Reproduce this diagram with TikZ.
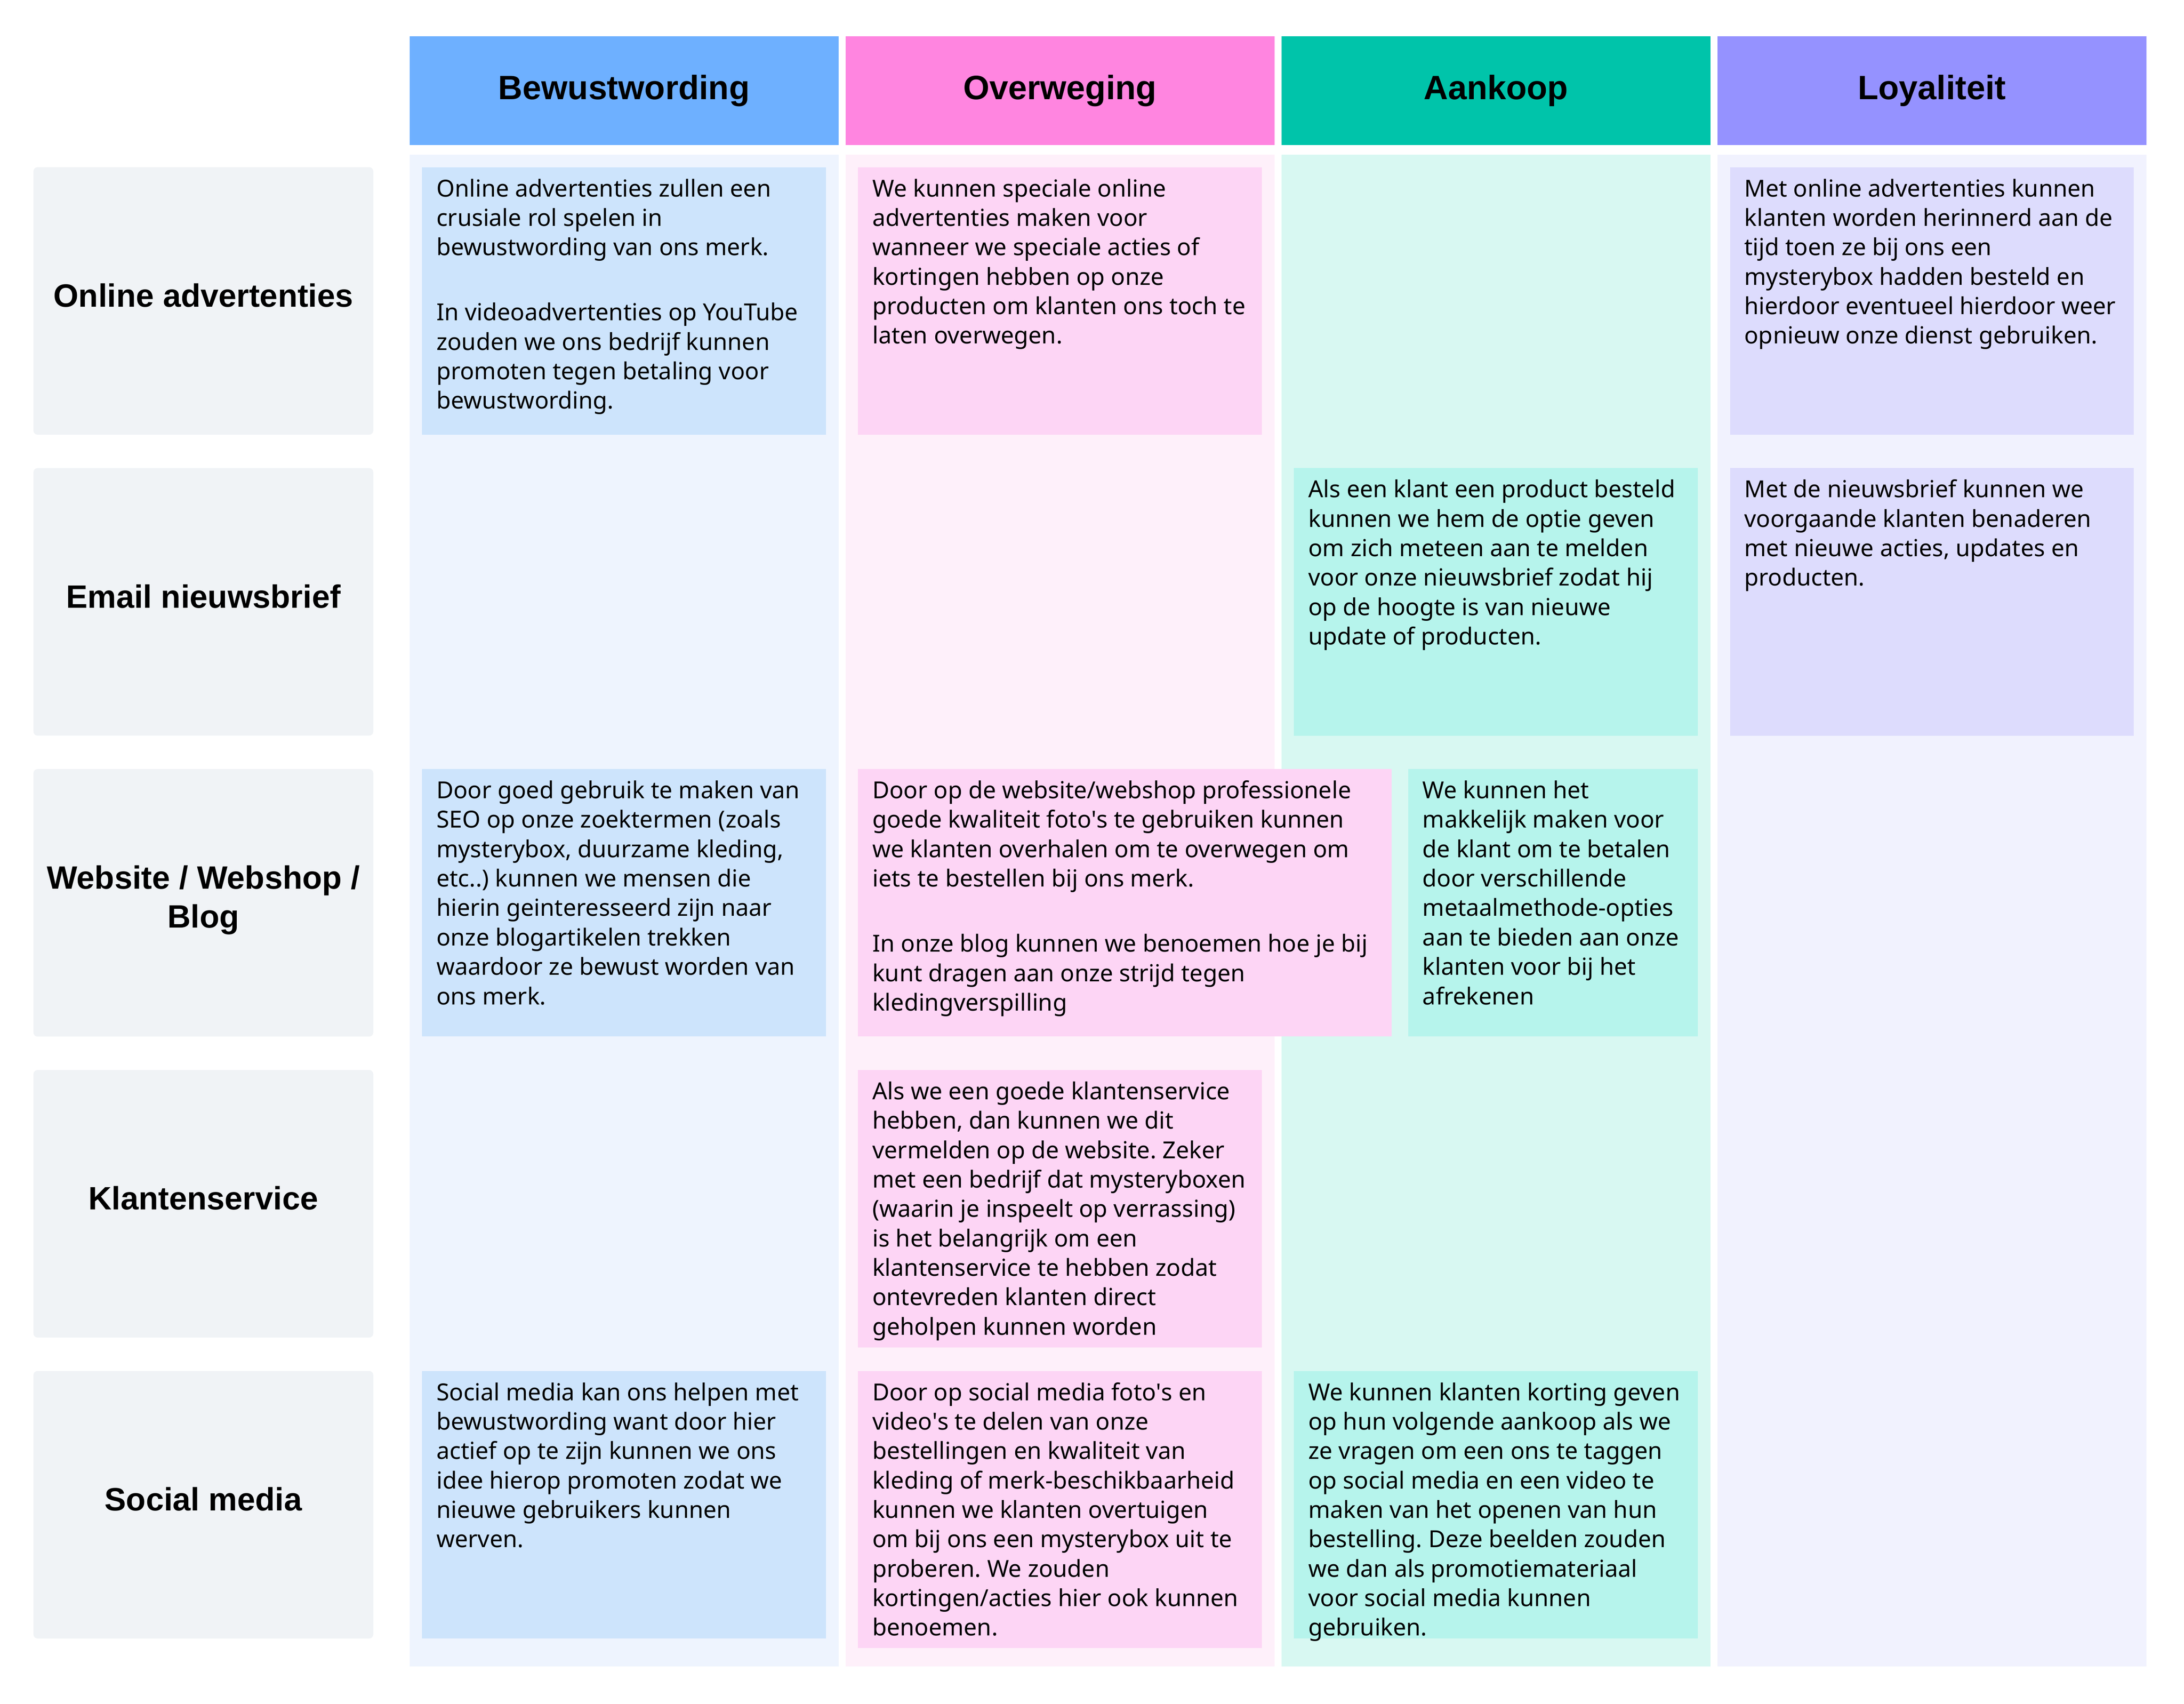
\documentclass[tikz,border=0pt]{standalone}
\usepackage{fontspec}
\setmainfont{Noto Sans}
\newfontfamily\kopfont{Liberation Sans}
\usepackage{tikz}
\frenchspacing

\definecolor{bewustkop}{HTML}{6EB0FF}
\definecolor{overwegkop}{HTML}{FF85E0}
\definecolor{aankoopkop}{HTML}{00C4AA}
\definecolor{loyalkop}{HTML}{9592FF}
\definecolor{bewustbg}{HTML}{EEF4FE}
\definecolor{overwegbg}{HTML}{FEF0FA}
\definecolor{aankoopbg}{HTML}{D8F8F2}
\definecolor{loyalbg}{HTML}{F1F2FE}
\definecolor{bewustkaart}{HTML}{CDE4FC}
\definecolor{overwegkaart}{HTML}{FDD5F5}
\definecolor{aankoopkaart}{HTML}{B6F4EC}
\definecolor{loyalkaart}{HTML}{DDDCFD}
\definecolor{rijbg}{HTML}{F0F3F6}

\begin{document}
\begin{tikzpicture}[x=0.02cm, y=-0.02cm]
			\tikzstyle{kopstyle} = [font=\kopfont\bfseries\fontsize{13.8}{16}\selectfont]
			\tikzstyle{rijstyle} = [font=\kopfont\bfseries\fontsize{13.2}{15.9}\selectfont, align=center]
			\tikzstyle{kaartstyle} = [font=\fontsize{9.58}{12.02}\selectfont, anchor=north west, inner sep=0pt, align=left]
			
			\useasboundingbox (0,0) rectangle (1568,1223);
			\fill[white] (0,0) rectangle (1568,1223);
			
			% kolommen
			\fill[bewustbg] (294,111) rectangle (602,1196);
			\fill[overwegbg] (607,111) rectangle (915,1196);
			\fill[aankoopbg] (920,111) rectangle (1228,1196);
			\fill[loyalbg] (1233,111) rectangle (1541,1196);
			
			\fill[bewustkop] (294,26) rectangle (602,104);
			\fill[overwegkop] (607,26) rectangle (915,104);
			\fill[aankoopkop] (920,26) rectangle (1228,104);
			\fill[loyalkop] (1233,26) rectangle (1541,104);
			\node[kopstyle] (K1) at (448,65) {Bewustwording};
			\node[kopstyle] (K2) at (761,65) {Overweging};
			\node[kopstyle] (K3) at (1074,65) {Aankoop};
			\node[kopstyle] (K4) at (1387,65) {Loyaliteit};
			
			% rijen
			\fill[rijbg, rounded corners=1.7pt] (24,120) rectangle (268,312);
			\fill[rijbg, rounded corners=1.7pt] (24,336) rectangle (268,528);
			\fill[rijbg, rounded corners=1.7pt] (24,552) rectangle (268,744);
			\fill[rijbg, rounded corners=1.7pt] (24,768) rectangle (268,960);
			\fill[rijbg, rounded corners=1.7pt] (24,984) rectangle (268,1176);
			\node[rijstyle] (R1) at (146,212) {Online advertenties};
			\node[rijstyle] (R2) at (146,428) {Email nieuwsbrief};
			\node[rijstyle] (R3) at (146,646) {Website / Webshop /\\Blog};
			\node[rijstyle] (R4) at (146,860) {Klantenservice};
			\node[rijstyle] (R5) at (146,1076) {Social media};
			
			% kaarten
			\fill[bewustkaart] (303,120) rectangle (593,312);
			\fill[overwegkaart] (616,120) rectangle (906,312);
			\fill[loyalkaart] (1242,120) rectangle (1532,312);
			\fill[aankoopkaart] (929,336) rectangle (1219,528);
			\fill[loyalkaart] (1242,336) rectangle (1532,528);
			\fill[bewustkaart] (303,552) rectangle (593,744);
			\fill[overwegkaart] (616,552) rectangle (999,744);
			\fill[aankoopkaart] (1011,552) rectangle (1219,744);
			\fill[overwegkaart] (616,768) rectangle (906,967);
			\fill[bewustkaart] (303,984) rectangle (593,1176);
			\fill[overwegkaart] (616,984) rectangle (906,1183);
			\fill[aankoopkaart] (929,984) rectangle (1219,1176);
			
			\node[kaartstyle] (T11) at (313,126) {\strut Online advertenties zullen een\\crusiale rol spelen in\\bewustwording van ons merk.\\[14.6pt]In videoadvertenties op YouTube\\zouden we ons bedrijf kunnen\\promoten tegen betaling voor\\bewustwording.};
			\node[kaartstyle] (T12) at (626,126) {\strut We kunnen speciale online\\advertenties maken voor\\wanneer we speciale acties of\\kortingen hebben op onze\\producten om klanten ons toch te\\laten overwegen.};
			\node[kaartstyle] (T14) at (1252,126) {\strut Met online advertenties kunnen\\klanten worden herinnerd aan de\\tijd toen ze bij ons een\\mysterybox hadden besteld en\\hierdoor eventueel hierdoor weer\\opnieuw onze dienst gebruiken.};
			\node[kaartstyle] (T23) at (939,342) {\strut Als een klant een product besteld\\kunnen we hem de optie geven\\om zich meteen aan te melden\\voor onze nieuwsbrief zodat hij\\op de hoogte is van nieuwe\\update of producten.};
			\node[kaartstyle] (T24) at (1252,342) {\strut Met de nieuwsbrief kunnen we\\voorgaande klanten benaderen\\met nieuwe acties, updates en\\producten.};
			\node[kaartstyle] (T31) at (313,558) {\strut Door goed gebruik te maken van\\SEO op onze zoektermen (zoals\\mysterybox, duurzame kleding,\\etc..) kunnen we mensen die\\hierin geinteresseerd zijn naar\\onze blogartikelen trekken\\waardoor ze bewust worden van\\ons merk.};
			\node[kaartstyle] (T32) at (626,558) {\strut Door op de website/webshop professionele\\goede kwaliteit foto\textquotesingle s te gebruiken kunnen\\we klanten overhalen om te overwegen om\\iets te bestellen bij ons merk.\\[14.6pt]In onze blog kunnen we benoemen hoe je bij\\kunt dragen aan onze strijd tegen\\kledingverspilling};
			\node[kaartstyle] (T33) at (1021,558) {\strut We kunnen het\\makkelijk maken voor\\de klant om te betalen\\door verschillende\\metaalmethode-opties\\aan te bieden aan onze\\klanten voor bij het\\afrekenen};
			\node[kaartstyle] (T42) at (626,774) {\strut Als we een goede klantenservice\\hebben, dan kunnen we dit\\vermelden op de website. Zeker\\met een bedrijf dat mysteryboxen\\(waarin je inspeelt op verrassing)\\is het belangrijk om een\\klantenservice te hebben zodat\\ontevreden klanten direct\\geholpen kunnen worden};
			\node[kaartstyle] (T51) at (313,990) {\strut Social media kan ons helpen met\\bewustwording want door hier\\actief op te zijn kunnen we ons\\idee hierop promoten zodat we\\nieuwe gebruikers kunnen\\werven.};
			\node[kaartstyle] (T52) at (626,990) {\strut Door op social media foto\textquotesingle s en\\video\textquotesingle s te delen van onze\\bestellingen en kwaliteit van\\kleding of merk-beschikbaarheid\\kunnen we klanten overtuigen\\om bij ons een mysterybox uit te\\proberen. We zouden\\kortingen/acties hier ook kunnen\\benoemen.};
			\node[kaartstyle] (T53) at (939,990) {\strut We kunnen klanten korting geven\\op hun volgende aankoop als we\\ze vragen om een ons te taggen\\op social media en een video te\\maken van het openen van hun\\bestelling. Deze beelden zouden\\we dan als promotiemateriaal\\voor social media kunnen\\gebruiken.};
			
			\end{tikzpicture}
\end{document}
